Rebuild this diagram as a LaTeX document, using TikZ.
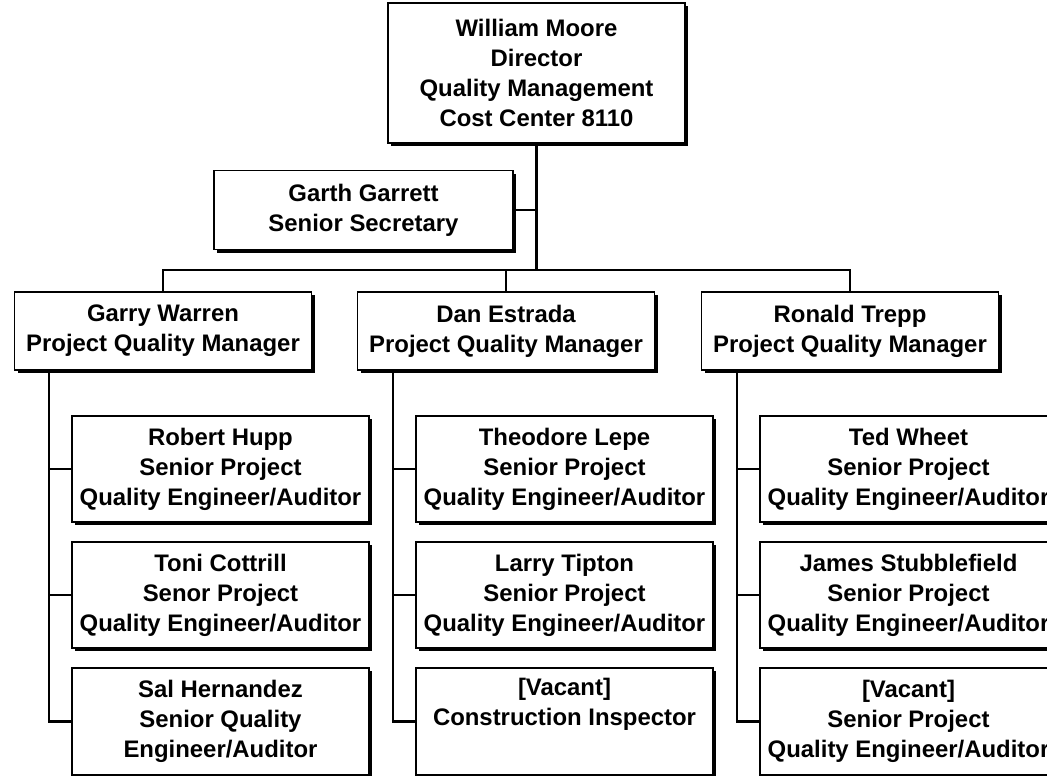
\documentclass[tikz,border=0pt]{standalone}
\usepackage{fontspec}
\setmainfont{Liberation Sans}
\usetikzlibrary{shadows}
\tikzset{
  post/.style={draw, fill=white, line width=0.9pt, align=center, inner sep=0pt,
    minimum width=7.425cm, font=\bfseries\fontsize{17}{21.3}\selectfont,
    drop shadow={shadow xshift=2.4pt, shadow yshift=-2.4pt, fill=black, opacity=1}},
  staff/.style={post, minimum height=2.65cm},
  link/.style={line width=1.5pt}
}
\begin{document}
\begin{tikzpicture}[x=0.025cm,y=-0.025cm]
  \clip (0,0) rectangle (1047,776);
  \fill[white] (0,0) rectangle (1047,776);
  \node[post, minimum height=3.5cm] (boss) at (536.5,73) {William Moore\\Director\\Quality Management\\Cost Center 8110};
  \node[post, minimum width=7.475cm, minimum height=1.975cm] (sec) at (363.5,210) {Garth Garrett\\Senior Secretary};
  \node[post, minimum height=1.95cm] (garry) at (163,331) {Garry Warren\\Project Quality Manager};
  \node[post, minimum height=1.95cm] (dan) at (506,331) {Dan Estrada\\Project Quality Manager};
  \node[post, minimum height=1.95cm] (ronald) at (850,331) {Ronald Trepp\\Project Quality Manager};
  \node[staff] (gw1) at (220.5,469) {Robert Hupp\\Senior Project\\Quality Engineer/Auditor};
  \node[staff] (gw2) at (220.5,595) {Toni Cottrill\\Senor Project\\Quality Engineer/Auditor};
  \node[staff, minimum height=2.675cm] (gw3) at (220.5,721.5) {Sal Hernandez\\Senior Quality\\Engineer/Auditor};
  \node[staff] (de1) at (564.5,469) {Theodore Lepe\\Senior Project\\Quality Engineer/Auditor};
  \node[staff] (de2) at (564.5,595) {Larry Tipton\\Senior Project\\Quality Engineer/Auditor};
  \node[staff, minimum height=2.675cm] (de3) at (564.5,721.5) {[Vacant]\\Construction Inspector\\\strut};
  \node[staff] (rt1) at (908.5,469) {Ted Wheet\\Senior Project\\Quality Engineer/Auditor};
  \node[staff] (rt2) at (908.5,595) {James Stubblefield\\Senior Project\\Quality Engineer/Auditor};
  \node[staff, minimum height=2.675cm] (rt3) at (908.5,721.5) {[Vacant]\\Senior Project\\Quality Engineer/Auditor};
  \coordinate (hub) at (536.5,270);
  \draw[link] (boss.south) -- (hub);
  \draw[link] (sec.east) -- (sec.east -| hub);
  \draw[link] (garry.north) |- (hub) -| (ronald.north);
  \draw[link] (dan.north) -- (dan.north |- hub);
  \foreach \m/\c in {garry/gw, dan/de, ronald/rt} {
    \coordinate (\c0) at ([xshift=-0.55cm]\c1.west);
    \draw[link] (\c0 |- \m.south) |- (\c3.west);
    \draw[link] (\c0) -- (\c1.west);
    \draw[link] (\c0 |- \c2.west) -- (\c2.west);
  }
\end{tikzpicture}
\end{document}
